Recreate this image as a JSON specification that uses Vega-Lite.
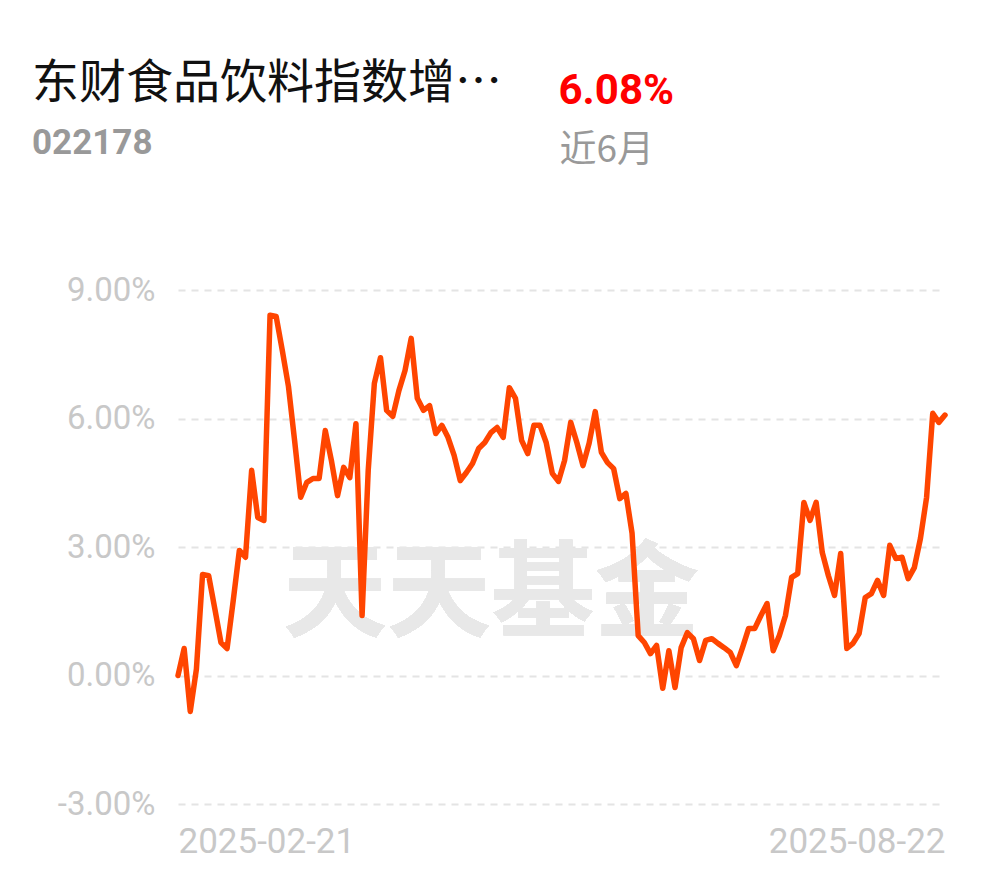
{
  "$schema": "https://vega.github.io/schema/vega-lite/v6.json",
  "autosize": {"type": "none"},
  "width": 767,
  "height": 514,
  "padding": {"left": 178, "top": 290, "right": 45, "bottom": 74},
  "background": "#ffffff",
  "config": {"view": {"stroke": null}},
  "title": {
    "text": "东财食品饮料指数增…",
    "subtitle": "022178",
    "anchor": "start",
    "frame": "group",
    "dx": -146,
    "offset": -93,
    "font": "Noto Sans CJK SC",
    "fontSize": 47,
    "fontWeight": "normal",
    "color": "#111111",
    "subtitleFont": "Roboto",
    "subtitleFontSize": 35,
    "subtitleFontWeight": "bold",
    "subtitleColor": "#999999",
    "subtitlePadding": 18
  },
  "data": {
    "values": [
      {"date": "2025-02-21", "v": 0.00},
      {"date": "2025-02-24", "v": 0.63},
      {"date": "2025-02-25", "v": -0.84},
      {"date": "2025-02-26", "v": 0.15},
      {"date": "2025-02-27", "v": 2.36},
      {"date": "2025-02-28", "v": 2.33},
      {"date": "2025-03-03", "v": 1.56},
      {"date": "2025-03-04", "v": 0.77},
      {"date": "2025-03-05", "v": 0.63},
      {"date": "2025-03-06", "v": 1.75},
      {"date": "2025-03-07", "v": 2.92},
      {"date": "2025-03-10", "v": 2.76},
      {"date": "2025-03-11", "v": 4.79},
      {"date": "2025-03-12", "v": 3.69},
      {"date": "2025-03-13", "v": 3.62},
      {"date": "2025-03-14", "v": 8.41},
      {"date": "2025-03-17", "v": 8.38},
      {"date": "2025-03-18", "v": 7.59},
      {"date": "2025-03-19", "v": 6.75},
      {"date": "2025-03-20", "v": 5.49},
      {"date": "2025-03-21", "v": 4.16},
      {"date": "2025-03-24", "v": 4.51},
      {"date": "2025-03-25", "v": 4.60},
      {"date": "2025-03-26", "v": 4.60},
      {"date": "2025-03-27", "v": 5.72},
      {"date": "2025-03-28", "v": 5.02},
      {"date": "2025-03-31", "v": 4.20},
      {"date": "2025-04-01", "v": 4.86},
      {"date": "2025-04-02", "v": 4.62},
      {"date": "2025-04-03", "v": 5.88},
      {"date": "2025-04-07", "v": 1.40},
      {"date": "2025-04-08", "v": 4.79},
      {"date": "2025-04-09", "v": 6.82},
      {"date": "2025-04-10", "v": 7.42},
      {"date": "2025-04-11", "v": 6.19},
      {"date": "2025-04-14", "v": 6.05},
      {"date": "2025-04-15", "v": 6.65},
      {"date": "2025-04-16", "v": 7.12},
      {"date": "2025-04-17", "v": 7.87},
      {"date": "2025-04-18", "v": 6.47},
      {"date": "2025-04-21", "v": 6.19},
      {"date": "2025-04-22", "v": 6.30},
      {"date": "2025-04-23", "v": 5.65},
      {"date": "2025-04-24", "v": 5.84},
      {"date": "2025-04-25", "v": 5.56},
      {"date": "2025-04-28", "v": 5.14},
      {"date": "2025-04-29", "v": 4.55},
      {"date": "2025-04-30", "v": 4.74},
      {"date": "2025-05-06", "v": 4.95},
      {"date": "2025-05-07", "v": 5.30},
      {"date": "2025-05-08", "v": 5.44},
      {"date": "2025-05-09", "v": 5.67},
      {"date": "2025-05-12", "v": 5.79},
      {"date": "2025-05-13", "v": 5.56},
      {"date": "2025-05-14", "v": 6.72},
      {"date": "2025-05-15", "v": 6.47},
      {"date": "2025-05-16", "v": 5.49},
      {"date": "2025-05-19", "v": 5.18},
      {"date": "2025-05-20", "v": 5.84},
      {"date": "2025-05-21", "v": 5.84},
      {"date": "2025-05-22", "v": 5.44},
      {"date": "2025-05-23", "v": 4.72},
      {"date": "2025-05-26", "v": 4.53},
      {"date": "2025-05-27", "v": 5.02},
      {"date": "2025-05-28", "v": 5.91},
      {"date": "2025-05-29", "v": 5.44},
      {"date": "2025-05-30", "v": 4.90},
      {"date": "2025-06-03", "v": 5.42},
      {"date": "2025-06-04", "v": 6.16},
      {"date": "2025-06-05", "v": 5.21},
      {"date": "2025-06-06", "v": 4.97},
      {"date": "2025-06-09", "v": 4.83},
      {"date": "2025-06-10", "v": 4.13},
      {"date": "2025-06-11", "v": 4.25},
      {"date": "2025-06-12", "v": 3.32},
      {"date": "2025-06-13", "v": 0.93},
      {"date": "2025-06-16", "v": 0.77},
      {"date": "2025-06-17", "v": 0.51},
      {"date": "2025-06-18", "v": 0.70},
      {"date": "2025-06-19", "v": -0.30},
      {"date": "2025-06-20", "v": 0.58},
      {"date": "2025-06-23", "v": -0.28},
      {"date": "2025-06-24", "v": 0.65},
      {"date": "2025-06-25", "v": 1.00},
      {"date": "2025-06-26", "v": 0.86},
      {"date": "2025-06-27", "v": 0.35},
      {"date": "2025-06-30", "v": 0.82},
      {"date": "2025-07-01", "v": 0.86},
      {"date": "2025-07-02", "v": 0.75},
      {"date": "2025-07-03", "v": 0.65},
      {"date": "2025-07-04", "v": 0.54},
      {"date": "2025-07-07", "v": 0.23},
      {"date": "2025-07-08", "v": 0.65},
      {"date": "2025-07-09", "v": 1.10},
      {"date": "2025-07-10", "v": 1.10},
      {"date": "2025-07-11", "v": 1.40},
      {"date": "2025-07-14", "v": 1.68},
      {"date": "2025-07-15", "v": 0.58},
      {"date": "2025-07-16", "v": 0.93},
      {"date": "2025-07-17", "v": 1.40},
      {"date": "2025-07-18", "v": 2.29},
      {"date": "2025-07-21", "v": 2.38},
      {"date": "2025-07-22", "v": 4.04},
      {"date": "2025-07-23", "v": 3.62},
      {"date": "2025-07-24", "v": 4.04},
      {"date": "2025-07-25", "v": 2.87},
      {"date": "2025-07-28", "v": 2.33},
      {"date": "2025-07-29", "v": 1.87},
      {"date": "2025-07-30", "v": 2.85},
      {"date": "2025-07-31", "v": 0.63},
      {"date": "2025-08-01", "v": 0.75},
      {"date": "2025-08-04", "v": 0.98},
      {"date": "2025-08-05", "v": 1.82},
      {"date": "2025-08-06", "v": 1.91},
      {"date": "2025-08-07", "v": 2.22},
      {"date": "2025-08-08", "v": 1.87},
      {"date": "2025-08-11", "v": 3.04},
      {"date": "2025-08-12", "v": 2.73},
      {"date": "2025-08-13", "v": 2.76},
      {"date": "2025-08-14", "v": 2.26},
      {"date": "2025-08-15", "v": 2.52},
      {"date": "2025-08-18", "v": 3.20},
      {"date": "2025-08-19", "v": 4.16},
      {"date": "2025-08-20", "v": 6.12},
      {"date": "2025-08-21", "v": 5.91},
      {"date": "2025-08-22", "v": 6.08}
    ]
  },
  "layer": [
    {
      "mark": {
        "type": "text",
        "text": "天天基金",
        "font": "Noto Sans CJK SC",
        "fontSize": 104,
        "fontWeight": "bold",
        "color": "#e8e8e8",
        "align": "center",
        "baseline": "middle"
      },
      "encoding": {
        "x": {"datum": "2025-05-09", "type": "ordinal"},
        "y": {"datum": 1.8, "type": "quantitative"}
      }
    },
    {
      "mark": {"type": "line", "color": "#ff4500", "strokeWidth": 5.5, "strokeJoin": "round", "strokeCap": "round"},
      "encoding": {
        "x": {
          "field": "date",
          "type": "ordinal",
          "scale": {"type": "point", "padding": 0},
          "axis": {
            "values": ["2025-02-21", "2025-08-22"],
            "labelAngle": 0,
            "labelAlign": {"condition": {"test": "datum.value == '2025-02-21'", "value": "left"}, "value": "right"},
            "labelFont": "Roboto",
            "labelFontSize": 35,
            "labelColor": "#c8c8c8",
            "labelPadding": 37,
            "ticks": false,
            "domain": false,
            "grid": false,
            "title": "近6月",
            "titleFont": "Noto Sans CJK SC",
            "titleFontSize": 37,
            "titleFontWeight": "normal",
            "titleColor": "#999999",
            "titleAngle": 0,
            "titleAlign": "left",
            "titleBaseline": "alphabetic",
            "titleX": 381,
            "titleY": -643
          }
        },
        "y": {
          "field": "v",
          "type": "quantitative",
          "scale": {"domain": [-3, 9], "nice": false, "zero": false},
          "axis": {
            "values": [-3, 0, 3, 6, 9],
            "labelExpr": "(datum.value < 0 ? '-' : '') + format(abs(datum.value), '.2f') + '%'",
            "labelFont": "Roboto",
            "labelFontSize": 33,
            "labelColor": "#c8c8c8",
            "labelPadding": 23,
            "ticks": false,
            "domain": false,
            "grid": true,
            "gridColor": "#e4e4e4",
            "gridWidth": 2,
            "gridDash": [7, 6],
            "title": "6.08%",
            "titleFont": "Roboto",
            "titleFontSize": 42,
            "titleFontWeight": "bold",
            "titleColor": "#ff0000",
            "titleAngle": 0,
            "titleAlign": "left",
            "titleBaseline": "alphabetic",
            "titleX": 380,
            "titleY": -187
          }
        }
      }
    }
  ]
}
